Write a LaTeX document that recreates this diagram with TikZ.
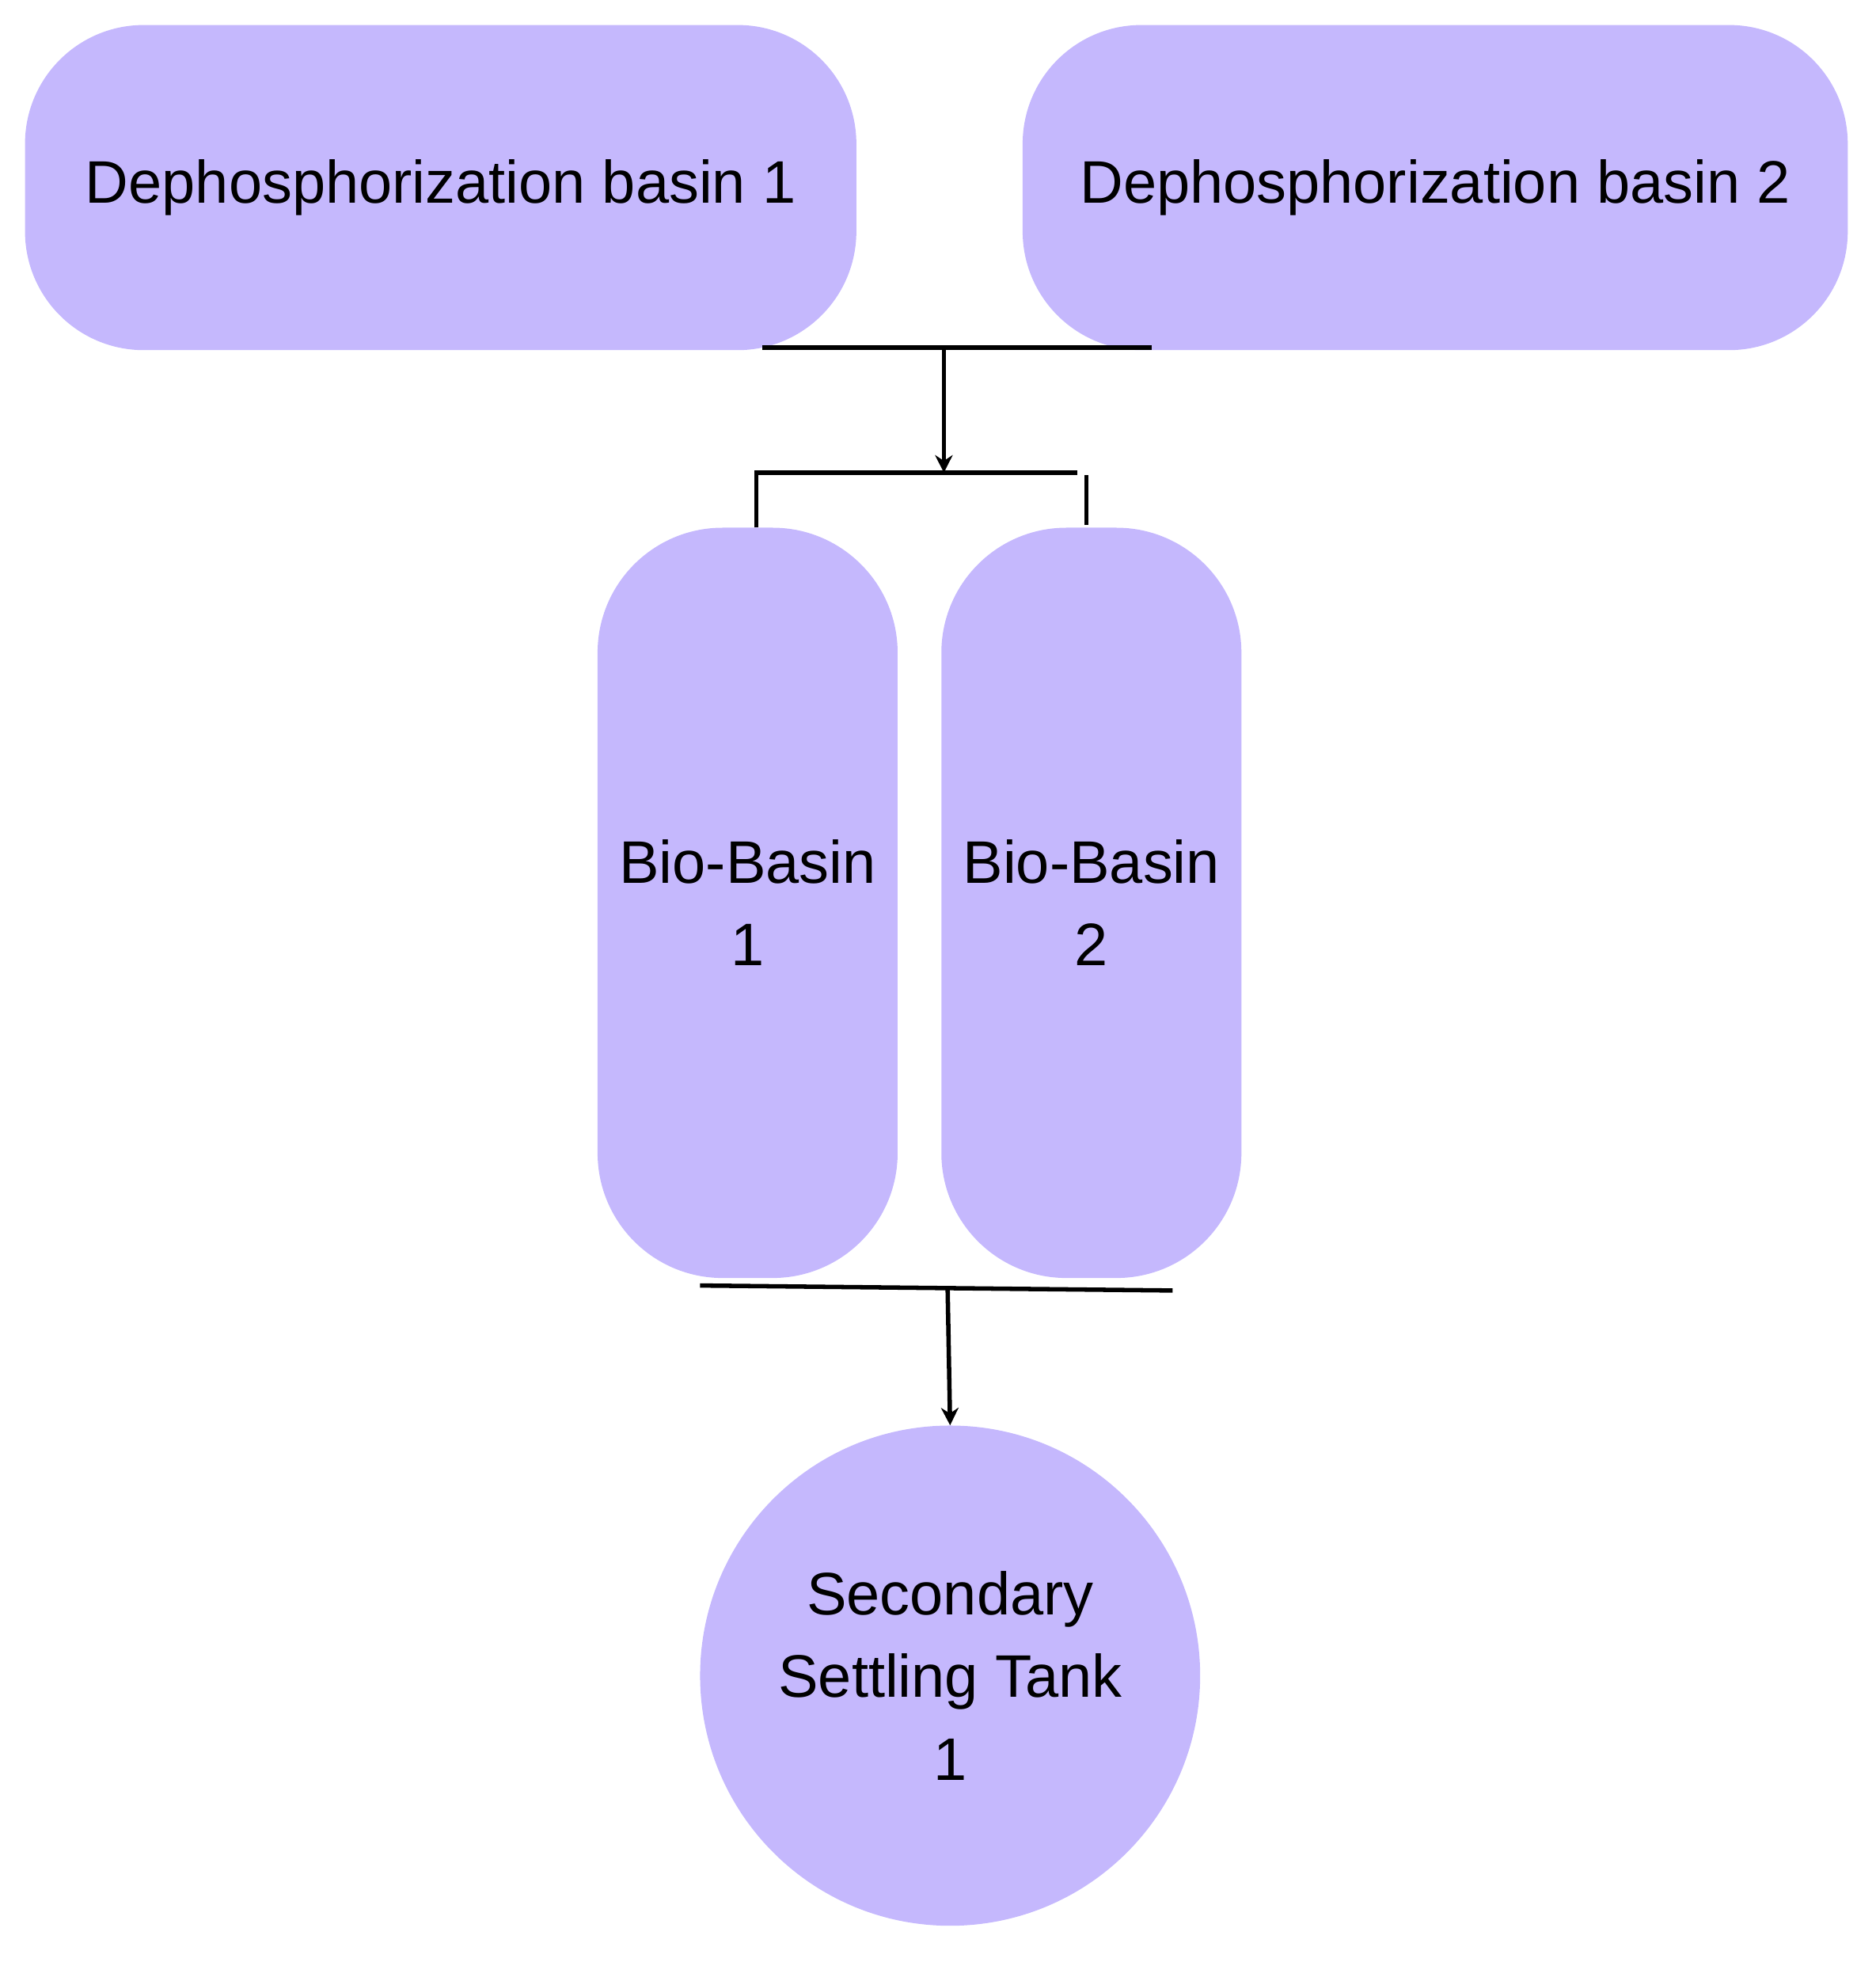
\documentclass[tikz,border=0pt]{standalone}
\usepackage{fontspec}
\usetikzlibrary{arrows.meta}
\setmainfont{Liberation Sans}
\begin{document}
\begin{tikzpicture}[x=1pt,y=-1pt,
  box/.style={fill=fillc,draw=none,inner sep=0pt,align=center,font=\fontsize{48}{66}\selectfont},
  ln/.style={line width=3.5pt,black},
  arr/.style={ln,-{Stealth[length=14pt,width=14pt]}}]
\definecolor{fillc}{HTML}{C5B8FD}
\useasboundingbox (0,0) rectangle (1500,1569);
\node[box,rounded corners=95pt,minimum width=665pt,minimum height=260pt] (d1) at (352.5,150) {Dephosphorization basin 1};
\node[box,rounded corners=95pt,minimum width=660pt,minimum height=260pt] (d2) at (1148,150) {Dephosphorization basin 2};
\node[box,rounded corners=100pt,minimum width=240pt,minimum height=600pt] (b1) at (598,722) {Bio-Basin\\1};
\node[box,rounded corners=100pt,minimum width=240pt,minimum height=600pt] (b2) at (873,722) {Bio-Basin\\2};
\node[box,circle,minimum size=400pt] (s) at (760,1340) {Secondary\\Settling Tank\\1};
\coordinate (t1) at (610,278); \coordinate (t2) at (921,278); \coordinate (tm) at (755,278);
\coordinate (bm) at (755,378); \coordinate (bl) at (605,378); \coordinate (br) at (862,378);
\coordinate (bb1) at (605,422); \coordinate (br1) at (869,380); \coordinate (br2) at (869,420);
\coordinate (u1) at (560,1028); \coordinate (u2) at (938,1032); \coordinate (um) at (758,1030);
\draw[ln] (t1) -- (t2);
\draw[arr] (tm) -- (bm);
\draw[ln] (bb1) -- (bl) -- (br);
\draw[ln] (br1) -- (br2);
\draw[ln] (u1) -- (u2);
\draw[arr] (um) -- (s.north);
\end{tikzpicture}
\end{document}
